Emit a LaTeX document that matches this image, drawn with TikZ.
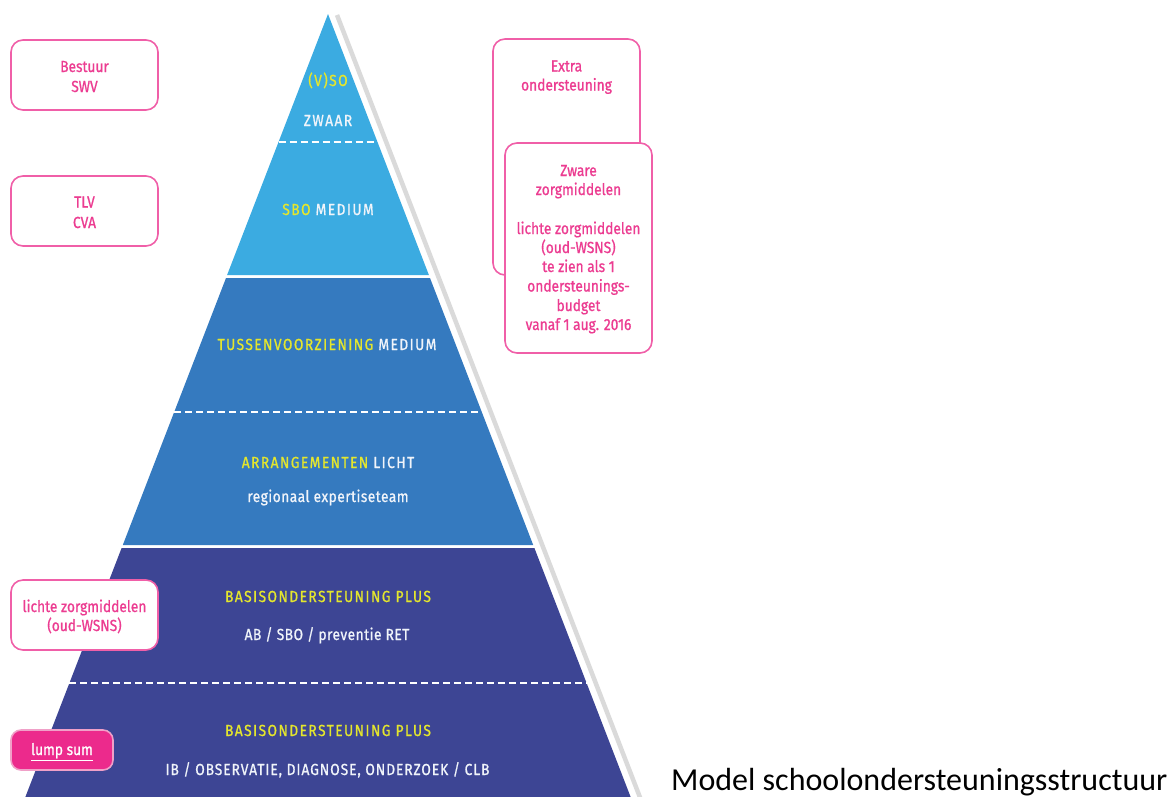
\documentclass[tikz,border=0pt]{standalone}
\usepackage{fontspec}
\setmainfont{Fira Sans}
\newfontfamily\pyrcaps[FakeStretch=0.86,LetterSpace=9,FakeBold=0.9]{Fira Sans}
\newfontfamily\pyrmid[FakeStretch=0.86,LetterSpace=6,FakeBold=0.9]{Fira Sans}
\newfontfamily\pyrlow[FakeStretch=0.86,LetterSpace=3,FakeBold=0.9]{Fira Sans}
\newfontfamily\pinkf[FakeStretch=0.86,FakeBold=0.9]{Fira Sans}
\newfontfamily\capf{Carlito}
\definecolor{lblue}{RGB}{59,171,225}
\definecolor{mblue}{RGB}{53,122,191}
\definecolor{navy}{RGB}{61,69,148}
\definecolor{ylw}{RGB}{228,230,45}
\definecolor{wht}{RGB}{240,244,250}
\definecolor{pinkline}{RGB}{240,95,168}
\definecolor{pinktext}{RGB}{236,60,145}
\definecolor{lumpfill}{RGB}{236,42,140}
\definecolor{lumpline}{RGB}{240,160,200}
\definecolor{shadowgray}{RGB}{218,218,218}
\tikzset{
  pinkbox/.style={draw=pinkline, line width=1.6pt, rounded corners=12pt, minimum width=147pt, minimum height=70pt, inner sep=0pt, fill=white},
  ptxt/.style={anchor=base, inner sep=0pt, text=pinktext, font=\pinkf\fontsize{16}{19}\selectfont},
  ycap/.style={anchor=base, inner sep=0pt, text=ylw, font=\pyrcaps\fontsize{16}{19}\selectfont},
  wcap/.style={anchor=base, inner sep=0pt, text=wht, font=\pyrcaps\fontsize{16}{19}\selectfont},
  wmid/.style={anchor=base, inner sep=0pt, text=wht, font=\pyrmid\fontsize{16}{19}\selectfont},
  wlow/.style={anchor=base, inner sep=0pt, text=wht, font=\pyrlow\fontsize{16}{19}\selectfont},
  sep/.style={white, line width=2pt, dash pattern=on 7pt off 4pt},
}
\begin{document}
\begin{tikzpicture}[x=1pt,y=-1pt]
\useasboundingbox (0,0) rectangle (1174,796);
% shadow line
\draw[shadowgray, line width=4.5pt] (337,15) -- (641,800);
% pyramid bands
\fill[lblue] (328,14) -- (428.9,275) -- (227.1,275) -- cycle;
\fill[mblue] (226,278) -- (430,278) -- (533.2,545) -- (122.8,545) -- cycle;
\fill[navy] (121.6,548) -- (534.4,548) -- (631.8,800) -- (24.2,800) -- cycle;
% dashed separators
\draw[sep] (278.5,142) -- (377.5,142);
\draw[sep] (174,412) -- (482,412);
\draw[sep] (69.4,683) -- (586.6,683);
% pyramid texts
\node[ycap] (vso) at (328,86) {(V)SO};
\node[wcap] (zwaar) at (328,126) {ZWAAR};
\node[wcap] (sbo) at (328,215) {{\color{ylw}SBO} MEDIUM};
\node[wcap] (tussen) at (327,350) {{\color{ylw}TUSSENVOORZIENING} MEDIUM};
\node[wcap] (arr) at (328,468) {{\color{ylw}ARRANGEMENTEN} LICHT};
\node[wlow] (reg) at (328,502) {regionaal expertiseteam};
\node[ycap] (bas1) at (328,602) {BASISONDERSTEUNING PLUS};
\node[wlow] (ab) at (327,640) {AB / SBO / preventie RET};
\node[ycap] (bas2) at (328,736) {BASISONDERSTEUNING PLUS};
\node[wmid] (ib) at (327.5,775) {IB / OBSERVATIE, DIAGNOSE, ONDERZOEK / CLB};
% left boxes
\node[pinkbox] (bswv) at (84.5,75) {};
\node[ptxt] (bswv1) at (84.5,72) {Bestuur};
\node[ptxt] (bswv2) at (84.5,92) {SWV};
\node[pinkbox] (tlv) at (84.5,211) {};
\node[ptxt] (tlv1) at (84.5,207.5) {TLV};
\node[ptxt] (tlv2) at (84.5,228) {CVA};
\node[pinkbox] (lzm) at (84.5,615) {};
\node[ptxt] (lzm1) at (84.5,612) {lichte zorgmiddelen};
\node[ptxt] (lzm2) at (84.5,631) {(oud-WSNS)};
\node[pinkbox, fill=lumpfill, draw=lumpline, minimum width=102pt, minimum height=40pt, rounded corners=10pt] (lump) at (62,750) {};
\node[ptxt, text=white] (lumpt) at (62,755) {\underline{lump sum}};
% right boxes
\node[pinkbox, minimum height=236pt] (extra) at (566.5,157) {};
\node[ptxt] (extra1) at (566.5,71.5) {Extra};
\node[ptxt] (extra2) at (566.5,90.5) {ondersteuning};
\node[pinkbox, minimum height=210pt] (zware) at (578.5,248) {};
\node[ptxt] (z1) at (578.5,176) {Zware};
\node[ptxt] (z2) at (578.5,195) {zorgmiddelen};
\node[ptxt] (z3) at (578.5,234) {lichte zorgmiddelen};
\node[ptxt] (z4) at (578.5,253) {(oud-WSNS)};
\node[ptxt] (z5) at (578.5,272) {te zien als 1};
\node[ptxt] (z6) at (578.5,291.5) {ondersteunings-};
\node[ptxt] (z7) at (578.5,311) {budget};
\node[ptxt] (z8) at (578.5,330) {vanaf 1 aug. 2016};
% caption
\node[anchor=base west, inner sep=0pt, font=\capf\fontsize{32}{32}\selectfont] (cap) at (671,790) {Model schoolondersteuningsstructuur};
\end{tikzpicture}
\end{document}
